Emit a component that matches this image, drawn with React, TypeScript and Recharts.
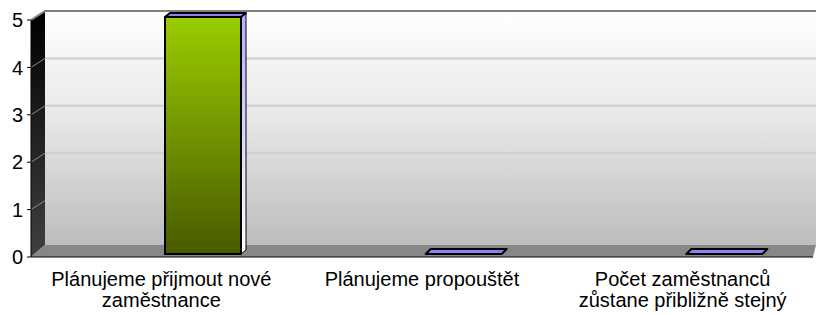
import React from 'react'
import { BarChart, Bar, XAxis, YAxis, CartesianGrid } from 'recharts'

const categories = [
  'Plánujeme přijmout nové zaměstnance',
  'Plánujeme propouštět',
  'Počet zaměstnanců zůstane přibližně stejný'
]
// how each axis label breaks into lines
const categoryLines = [
  ['Plánujeme přijmout nové', 'zaměstnance'],
  ['Plánujeme propouštět'],
  ['Počet zaměstnanců', 'zůstane přibližně stejný']
]
const values = [5, 0, 0]
const yTicks = [0, 1, 2, 3, 4, 5]

const data = categories.map((name, i) => ({ name, value: values[i] }))

// layout of the fake 3D box
const W = 816
const H = 315
const LEFT = 31
const TOP = 20
const AXIS_H = 58
const BOTTOM = H - AXIS_H
const DX = 14
const DY = -9
const FLOOR_BACK = 245
const BAR_SHIFT = 42
const BAR_LIFT = -3
const BD = 5
const BDY = -4
const FONT = '"Liberation Sans", Arial, sans-serif'

function Bar3D(props: any) {
  const { x, y, width, height } = props
  const fx = x + BAR_SHIFT
  const fy = y + BAR_LIFT
  const w = width
  const h = Math.max(height || 0, 0)
  // flat bars show a slightly deeper top face
  const dy = h > 0 ? BDY : BDY - 1
  const top = `${fx},${fy} ${fx + BD},${fy + dy} ${fx + w + BD},${fy + dy} ${fx + w},${fy}`
  const side = `${fx + w},${fy} ${fx + w + BD},${fy + dy} ${fx + w + BD},${fy + h + dy} ${fx + w},${fy + h}`
  return (
    <g>
      {h > 0 && <polygon points={side} fill="url(#barSide)" stroke="#000" strokeWidth={1} />}
      {h > 0 && (
        <rect x={fx} y={fy} width={w} height={h} fill="url(#barFront)" stroke="#000" strokeWidth={2} />
      )}
      <polygon points={top} fill="#8f80f0" stroke="#000" strokeWidth={2} strokeLinejoin="round" />
    </g>
  )
}

function CatTick(props: any) {
  const { x, y, payload } = props
  const idx = categories.indexOf(payload.value)
  const lines = idx >= 0 ? categoryLines[idx] : [payload.value]
  return (
    <text x={x} y={y + 29} textAnchor="middle" fill="#000" fontSize={20} fontFamily={FONT}>
      {lines.map((line: string, i: number) => (
        <tspan key={i} x={x} dy={i === 0 ? 0 : 21}>
          {line}
        </tspan>
      ))}
    </text>
  )
}

function gridLine(p: any) {
  const key = `g-${p.index}-${p.y1}`
  if (p.y1 > BOTTOM - 2) return <g key={key} />
  const isTop = p.y1 < TOP + 2
  return (
    <g key={key}>
      <line x1={LEFT} y1={p.y1} x2={LEFT + DX} y2={p.y1 + DY} stroke="#8a8a8a" strokeWidth={1} />
      {!isTop && (
        <line x1={LEFT + DX} y1={p.y1 + DY} x2={W} y2={p.y1 + DY} stroke="#cdcdcd" strokeWidth={2} />
      )}
    </g>
  )
}

export default function App() {
  return (
    <div style={{ position: 'relative', width: W, height: H, fontFamily: FONT, background: '#fff' }}>
      <style>{'body{margin:0}'}</style>
      <svg width={W} height={H} style={{ position: 'absolute', left: 0, top: 0 }}>
        <defs>
          <linearGradient id="wallGrad" x1="0" y1="0" x2="0" y2="1">
            <stop offset="0%" stopColor="#ffffff" />
            <stop offset="45%" stopColor="#e8e8e8" />
            <stop offset="100%" stopColor="#bdbdbd" />
          </linearGradient>
          <linearGradient id="sideGrad" x1="0" y1="0" x2="0" y2="1">
            <stop offset="0%" stopColor="#000000" />
            <stop offset="100%" stopColor="#404040" />
          </linearGradient>
        </defs>
        <rect x={LEFT + DX} y={TOP + DY} width={W - LEFT - DX} height={FLOOR_BACK - TOP - DY} fill="url(#wallGrad)" />
        <polygon
          points={`${LEFT},${TOP} ${LEFT + DX},${TOP + DY} ${LEFT + DX},${FLOOR_BACK} ${LEFT},${BOTTOM}`}
          fill="url(#sideGrad)"
        />
        <polygon
          points={`${LEFT},${BOTTOM} ${LEFT + DX},${FLOOR_BACK} ${W},${FLOOR_BACK} ${W - 3},${BOTTOM}`}
          fill="#878787"
        />
        <polyline
          points={`${LEFT},${TOP} ${LEFT + DX},${TOP + DY} ${W},${TOP + DY}`}
          fill="none"
          stroke="#808080"
          strokeWidth={2}
        />
      </svg>
      <div style={{ position: 'absolute', left: 0, top: 0 }}>
        <BarChart width={W} height={H} data={data} margin={{ top: TOP, right: 3, bottom: 0, left: 0 }}>
          <defs>
            <linearGradient id="barFront" x1="0" y1="0" x2="0" y2="1">
              <stop offset="0%" stopColor="#9acd00" />
              <stop offset="100%" stopColor="#485a00" />
            </linearGradient>
            <linearGradient id="barSide" x1="0" y1="0" x2="0" y2="1">
              <stop offset="0%" stopColor="#b8acff" />
              <stop offset="100%" stopColor="#ffffff" />
            </linearGradient>
          </defs>
          <CartesianGrid vertical={false} horizontal={gridLine} />
          <XAxis
            dataKey="name"
            height={AXIS_H}
            interval={0}
            tickLine={false}
            tickSize={0}
            tickMargin={0}
            axisLine={{ stroke: '#000', strokeWidth: 1 }}
            tick={<CatTick />}
          />
          <YAxis
            width={LEFT}
            domain={[0, 5]}
            ticks={yTicks}
            interval={0}
            tickSize={4}
            tickMargin={4}
            axisLine={{ stroke: '#000', strokeWidth: 1 }}
            tickLine={{ stroke: '#000' }}
            tick={{ fontSize: 20, fill: '#000', fontFamily: FONT }}
          />
          <Bar dataKey="value" barSize={76} shape={<Bar3D />} isAnimationActive={false} />
        </BarChart>
      </div>
    </div>
  )
}
